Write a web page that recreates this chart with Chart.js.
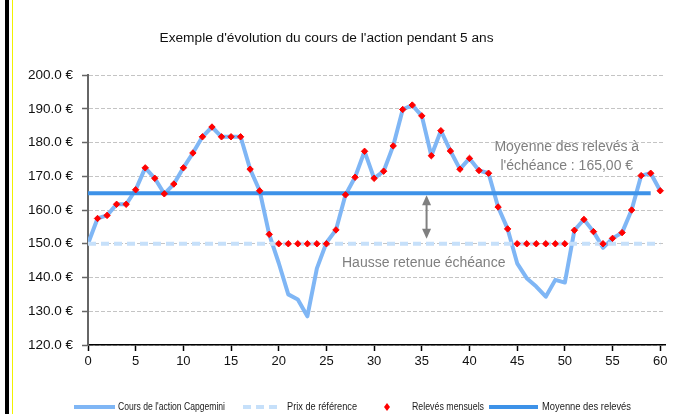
<!DOCTYPE html>
<html><head><meta charset="utf-8">
<script src="https://cdn.jsdelivr.net/npm/chart.js@4.4.1/dist/chart.umd.min.js"></script>
<style>html,body{margin:0;padding:0;background:#fff;overflow:hidden}canvas{display:block}</style>
</head><body>
<canvas id="c" width="690" height="414"></canvas>
<script>
// ---- data ----
const months = [0,1,2,3,4,5,6,7,8,9,10,11,12,13,14,15,16,17,18,19,20,21,22,23,24,25,26,27,28,29,30,31,32,33,34,35,36,37,38,39,40,41,42,43,44,45,46,47,48,49,50,51,52,53,54,55,56,57,58,59,60];
const coursAction = [150,157.5,158.4,161.7,161.7,166,172.5,169.4,164.8,167.7,172.5,176.9,181.7,184.6,181.7,181.7,181.7,172.1,165.7,152.8,144.3,135,133.5,128.5,142.7,150.3,154.1,164.5,169.7,177.4,169.4,171.5,179,189.8,191.1,187.9,176.1,183.5,177.5,172.1,175.3,171.7,170.9,160.9,154.4,144.2,139.8,137.3,134.3,139.3,138.5,154,157.2,153.6,148.8,151.6,153.3,160,170.2,170.9,165.7];
const relevesMensuels = [null,157.5,158.4,161.7,161.7,166,172.5,169.4,164.8,167.7,172.5,176.9,181.7,184.6,181.7,181.7,181.7,172.1,165.7,152.8,150,150,150,150,150,150,154.1,164.5,169.7,177.4,169.4,171.5,179,189.8,191.1,187.9,176.1,183.5,177.5,172.1,175.3,171.7,170.9,160.9,154.4,150,150,150,150,150,150,154,157.2,153.6,150,151.6,153.3,160,170.2,170.9,165.7];
const prixReference = 150;
const refMonths = [0, 60];
const moyenneReleves = 165;
const moyMonths = [0, 59];
const xTicks = [0,5,10,15,20,25,30,35,40,45,50,55,60];
const yTicks = [120,130,140,150,160,170,180,190,200];
const seriesLabels = ["Cours de l'action Capgemini","Prix de référence","Relevés mensuels","Moyenne des relevés"];
const titleText = "Exemple d'évolution du cours de l'action pendant 5 ans";
const noteMoyenne = ["Moyenne des relevés à", "l'échéance : 165,00 €"];
const noteHausse = "Hausse retenue échéance";

const SANS = "'Liberation Sans', Arial, sans-serif";

const decoPlugin = {
  id: 'deco',
  afterLayout(chart) {
    if (chart.titleBlock) { chart.titleBlock.left = -12; }
  },
  beforeDraw(chart) {
    const ctx = chart.ctx;
    ctx.save();
    ctx.fillStyle = '#fff';
    ctx.fillRect(0, 0, chart.width, chart.height);
    ctx.fillStyle = '#000';
    ctx.fillRect(5, 0, 4, chart.height);
    ctx.fillStyle = '#f2f200';
    ctx.fillRect(12, 0, 1, chart.height);
    ctx.restore();
  }
};

const notesPlugin = {
  id: 'notes',
  afterDatasetsDraw(chart) {
    const ctx = chart.ctx, xs = chart.scales.x, ys = chart.scales.y;
    ctx.save();
    ctx.fillStyle = '#7f7f7f';
    ctx.font = '14px ' + SANS;
    ctx.textAlign = 'center';
    ctx.textBaseline = 'middle';
    const cx = xs.getPixelForValue(50.2);
    ctx.fillText(noteMoyenne[0], cx, ys.getPixelForValue(178.6));
    ctx.fillText(noteMoyenne[1], cx, ys.getPixelForValue(172.9));
    ctx.fillText(noteHausse, xs.getPixelForValue(35.2), ys.getPixelForValue(144.4));
    // double arrow
    const ax = xs.getPixelForValue(35.5);
    const y1 = ys.getPixelForValue(moyenneReleves) + 2;
    const y2 = ys.getPixelForValue(prixReference) - 5;
    ctx.strokeStyle = '#808080';
    ctx.lineWidth = 2;
    ctx.beginPath(); ctx.moveTo(ax, y1 + 8); ctx.lineTo(ax, y2 - 8); ctx.stroke();
    ctx.beginPath(); ctx.moveTo(ax, y1); ctx.lineTo(ax - 4.5, y1 + 10); ctx.lineTo(ax + 4.5, y1 + 10); ctx.closePath(); ctx.fill();
    ctx.beginPath(); ctx.moveTo(ax, y2); ctx.lineTo(ax - 4.5, y2 - 10); ctx.lineTo(ax + 4.5, y2 - 10); ctx.closePath(); ctx.fill();
    ctx.restore();
  }
};

const legendPlugin = {
  id: 'customLegend',
  afterDraw(chart) {
    const ctx = chart.ctx, y = 407;
    const ds = chart.data.datasets;
    const slots = [{s:74,e:115,t:118,w:107},{s:243,e:277,t:287,w:70},{s:369,e:405,t:412,w:72},{s:489,e:538,t:542,w:89}];
    ctx.save();
    ctx.font = '11px ' + SANS;
    ctx.textBaseline = 'middle';
    slots.forEach((sl, i) => {
      const d = ds[i];
      if (d.showLine === false) {
        const cx = (sl.s + sl.e) / 2;
        ctx.fillStyle = d.pointBackgroundColor;
        ctx.beginPath(); ctx.moveTo(cx, y - 4); ctx.lineTo(cx + 3, y); ctx.lineTo(cx, y + 4); ctx.lineTo(cx - 3, y); ctx.closePath(); ctx.fill();
      } else {
        ctx.strokeStyle = d.borderColor;
        ctx.lineWidth = d.borderWidth;
        ctx.setLineDash(d.borderDash || []);
        ctx.beginPath(); ctx.moveTo(sl.s, y); ctx.lineTo(sl.e, y); ctx.stroke();
        ctx.setLineDash([]);
      }
      ctx.fillStyle = '#1a1a1a';
      const mw = ctx.measureText(d.label).width;
      const k = Math.min(1, sl.w / mw);
      ctx.save();
      ctx.translate(sl.t, y);
      ctx.scale(k, 1);
      ctx.fillText(d.label, 0, 0);
      ctx.restore();
    });
    ctx.restore();
  }
};

new Chart(document.getElementById('c'), {
  type: 'line',
  data: {
    datasets: [
      { label: seriesLabels[0], data: months.map((m, i) => ({x: m, y: coursAction[i]})),
        borderColor: '#7fb6f5', borderWidth: 4, pointRadius: 0, tension: 0, borderJoinStyle: 'round', order: 4 },
      { label: seriesLabels[1], data: refMonths.map(m => ({x: m, y: prixReference})),
        borderColor: '#c6e0fa', borderWidth: 4, borderDash: [8, 5], pointRadius: 0, order: 3 },
      { label: seriesLabels[2], data: months.map((m, i) => ({x: m, y: relevesMensuels[i]})),
        showLine: false, pointStyle: 'rectRot', pointRadius: 3.2, pointBackgroundColor: '#ff0000', pointBorderColor: '#ff0000', pointBorderWidth: 1, order: 1 },
      { label: seriesLabels[3], data: moyMonths.map(m => ({x: m, y: moyenneReleves})),
        borderColor: '#3d92e8', borderWidth: 4, pointRadius: 0, order: 2 }
    ]
  },
  options: {
    responsive: false,
    devicePixelRatio: 1,
    animation: false,
    events: [],
    layout: { padding: { left: 0, right: 25, top: 0, bottom: 39 } },
    plugins: {
      legend: { display: false },
      tooltip: { enabled: false },
      title: { display: true, text: titleText, color: '#111', font: { family: SANS, size: 13.7, weight: 'normal' }, padding: { top: 29.8, bottom: 28.8 } }
    },
    scales: {
      x: {
        type: 'linear', min: 0, max: 60.5,
        afterBuildTicks: s => { s.ticks = xTicks.map(v => ({value: v})); },
        afterFit: s => { s.height = 30; },
        ticks: { color: '#111', font: { family: SANS, size: 13 }, padding: 3, maxRotation: 0, autoSkip: false, callback: v => String(v) },
        grid: { drawOnChartArea: false, drawTicks: true, tickLength: 6, tickColor: '#000', tickWidth: 1.5 },
        border: { display: true, color: '#000', width: 1.5 }
      },
      y: {
        type: 'linear', min: 120, max: 200,
        afterBuildTicks: s => { s.ticks = yTicks.map(v => ({value: v})); },
        afterFit: s => { s.width = 88; },
        ticks: { color: '#111', font: { family: SANS, size: 13.5 }, padding: 9, callback: v => v.toFixed(1) + ' €' },
        grid: { color: '#c4c4c4', lineWidth: 1, tickLength: 6, tickColor: '#666', tickWidth: 1.5, tickBorderDash: [] },
        border: { display: true, color: '#666', width: 2, dash: [4, 2] }
      }
    }
  },
  plugins: [decoPlugin, notesPlugin, legendPlugin]
});
</script>
</body></html>
